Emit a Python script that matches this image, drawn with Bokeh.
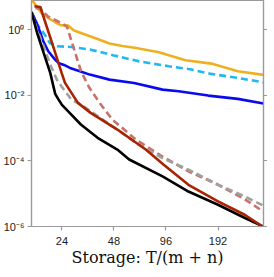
from bokeh.plotting import figure
from bokeh.models import Range1d, LogAxis, FixedTicker, CustomJSTickFormatter
from bokeh.embed import file_html
from bokeh.resources import INLINE

# x ticks / y ticks
xtick_vals = [24, 48, 96, 192]
xtick_labels = ["24", "48", "96", "192"]
ytick_vals = [1e-6, 1e-4, 1e-2, 1.0]
ytick_labels = ["10\u207b\u2076", "10\u207b\u2074", "10\u207b\u00b2", "10\u2070"]
xlabel = "Storage: T/(m + n)"

# series (x = storage T/(m+n), y = error)
x_yellow = [16, 16.87, 18.25, 20.01, 21.94, 23.74, 26.03, 28.2, 32.99, 39.65, 45.2, 53.7, 64.5, 87.3, 124.5, 175.3, 250, 352]
y_yellow = [8.5, 5.9, 3.30, 2.32, 1.72, 1.39, 1.38, 0.97, 0.719, 0.506, 0.388, 0.325, 0.283, 0.209, 0.119, 0.094, 0.0551, 0.0425]

x_cyan = [16, 17.3, 19.1, 20.4, 22.6, 27.1, 35.2, 48, 67.1, 99.6, 129.5, 175.3, 250, 352]
y_cyan = [3.54, 1.45, 0.719, 0.402, 0.318, 0.303, 0.251, 0.167, 0.110, 0.078, 0.0647, 0.0456, 0.0344, 0.0251]

x_blue = [16, 17.31, 18.73, 20.01, 21.9, 22.9, 24.7, 26.72, 30.48, 34.77, 45.2, 62.8, 91.7, 113.6, 168.5, 250, 352]
y_blue = [3.54, 1.45, 0.452, 0.224, 0.124, 0.0986, 0.0857, 0.0694, 0.0551, 0.0434, 0.0305, 0.0242, 0.0151, 0.0135, 0.00993, 0.00787, 0.00566]

x_pink = [16.87, 18.01, 20.01, 21.94, 24.7, 25.7, 30.9, 34.6, 40.3, 47.0, 64.5, 91.7, 130, 192.4, 274, 352]
y_pink = [4.69, 4.37, 2.54, 2.02, 1.45, 1.23, 0.0562, 0.0171, 0.00528, 0.00184, 0.000443, 0.000137, 4.79e-5, 1.88e-5, 6.8e-6, 2.83e-6]

x_gray = [16, 17.25, 18.81, 20.54, 22.43, 23.83, 27.2, 30.9, 38.6, 50.2, 64.5, 91.7, 130, 192.4, 274, 352]
y_gray = [3.30, 1.02, 0.318, 0.0875, 0.0305, 0.0192, 0.0075, 0.00528, 0.00234, 0.000913, 0.000351, 0.000122, 5.39e-5, 1.88e-5, 8.28e-6, 4.31e-6]

x_black = [16, 17.25, 18.81, 20.54, 21.94, 22.82, 24, 26.6, 30.88, 38.6, 50.2, 58.8, 91.7, 129.5, 192, 273, 352]
y_black = [3.54, 0.810, 0.199, 0.0489, 0.0112, 0.00787, 0.00517, 0.00295, 0.0013, 0.00051, 0.000224, 0.000111, 3.37e-5, 1.17e-5, 4.62e-6, 1.85e-6, 9.9e-7]

x_red = [16.64, 18.01, 18.73, 21.65, 23.9, 25.0, 29.69, 35.2, 50.2, 73.3, 93.2, 129.5, 192, 274, 352]
y_red = [5.28, 5.03, 2.62, 0.251, 0.0489, 0.0242, 0.00595, 0.00295, 0.000913, 0.000224, 7.66e-5, 1.88e-5, 5.82e-6, 2.29e-6, 9.5e-7]

AX = "#9a9a9a"

p = figure(x_axis_type="log", y_axis_type="log",
           x_range=Range1d(16, 352), y_range=Range1d(1e-6, 10 ** 0.9),
           frame_width=232, frame_height=226,
           min_border_top=0, min_border_left=0, min_border_right=0, min_border_bottom=0,
           output_backend="svg", toolbar_location=None)
p.grid.visible = False
p.outline_line_color = AX
p.outline_line_width = 1.2
p.background_fill_color = "white"
p.border_fill_color = "white"

ylab_fmt = CustomJSTickFormatter(args=dict(vals=ytick_vals, labs=ytick_labels), code="""
for (let i = 0; i < vals.length; i++) {
  if (Math.abs(Math.log10(tick) - Math.log10(vals[i])) < 1e-6) return labs[i];
}
return "";
""")
blank_fmt = CustomJSTickFormatter(code="return '';")

xa = p.xaxis[0]
xa.ticker = FixedTicker(ticks=xtick_vals)
xa.major_label_overrides = dict(zip(xtick_vals, xtick_labels))
xa.axis_label = xlabel
xa.axis_label_text_font = "DejaVu Serif"
xa.axis_label_text_font_size = "16px"
xa.axis_label_text_font_style = "normal"
xa.axis_label_text_color = "#111111"
xa.axis_label_standoff = 0

ya = p.yaxis[0]
ya.ticker = FixedTicker(ticks=ytick_vals)
ya.formatter = ylab_fmt

ra = LogAxis(ticker=FixedTicker(ticks=ytick_vals), formatter=blank_fmt,
             major_label_standoff=0)
p.add_layout(ra, "right")

for ax in (xa, ya, ra):
    ax.axis_line_color = AX
    ax.axis_line_width = 1.2
    ax.major_tick_line_color = AX
    ax.major_tick_line_width = 1.2
    ax.major_tick_out = 4
    ax.major_tick_in = 0
    ax.minor_tick_out = 0
    ax.minor_tick_in = 0
    ax.minor_tick_line_color = None
for ax in (xa, ya):
    ax.major_label_text_font = "Liberation Sans"
    ax.major_label_text_font_size = "11px"
    ax.major_label_text_color = "#222222"
ya.major_label_standoff = 3
xa.major_label_standoff = 6

LW = 2.6
p.line(x_yellow, y_yellow, line_color="#EDB120", line_width=LW)
p.line(x_cyan, y_cyan, line_color="#20B8F0", line_width=LW, line_dash="7 4")
p.line(x_blue, y_blue, line_color="#0A0AEE", line_width=LW)
p.line(x_pink, y_pink, line_color="#C8726A", line_width=LW, line_dash="7 4")
p.line(x_gray, y_gray, line_color="#A0A0A0", line_width=LW, line_dash="7 4")
p.line(x_black, y_black, line_color="#000000", line_width=LW)
p.line(x_red, y_red, line_color="#A82400", line_width=LW)

open("out.html", "w").write(file_html(p, INLINE))
